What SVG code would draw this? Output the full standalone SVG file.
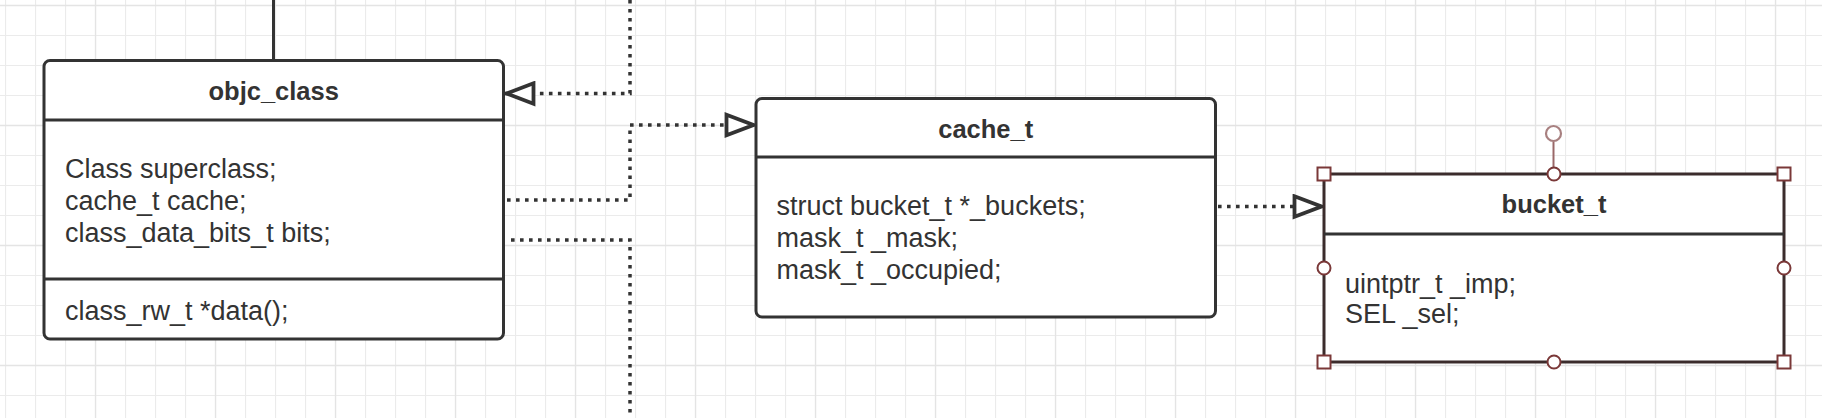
<svg xmlns="http://www.w3.org/2000/svg" width="1822" height="418" viewBox="0 0 1822 418">
<style>
.box{fill:#fff;stroke:#333;stroke-width:3}
.div{stroke:#333;stroke-width:3}
.title{font-family:"Liberation Sans",Arial,sans-serif;font-weight:bold;font-size:25.5px;fill:#333;text-anchor:middle}
.body{font-family:"Liberation Sans",Arial,sans-serif;font-size:27px;fill:#333}
.dot{fill:none;stroke:#333;stroke-width:3.5;stroke-dasharray:3.6 5.4}
.solid{fill:none;stroke:#333;stroke-width:3}
.hdl{fill:#fff;stroke:#7a3838;stroke-width:2}
</style>
<defs>
<pattern id="grid" x="5" y="5" width="30" height="30" patternUnits="userSpaceOnUse">
<path d="M0.5 0V30M0 0.5H30" fill="none" stroke="#ebebeb" stroke-width="1.2"/>
</pattern>
<marker id="tri" viewBox="0 0 34 26" refX="32" refY="13" markerWidth="34" markerHeight="26" markerUnits="userSpaceOnUse" orient="auto">
<path d="M3.5 2.8L30.5 13L3.5 23.2Z" fill="#fff" stroke="#333" stroke-width="3.8" stroke-linejoin="miter"/>
</marker>
</defs>
<rect width="1822" height="418" fill="#fff"/>
<rect width="1822" height="418" fill="url(#grid)"/>
<path d="M95.5 0V418M215.5 0V418M335.5 0V418M455.5 0V418M575.5 0V418M695.5 0V418M815.5 0V418M935.5 0V418M1055.5 0V418M1175.5 0V418M1295.5 0V418M1415.5 0V418M1535.5 0V418M1655.5 0V418M1775.5 0V418M0 5.5H1822M0 125.5H1822M0 245.5H1822M0 365.5H1822" fill="none" stroke="#e4e4e4" stroke-width="1.3"/>

<g id="connectors">
<path class="solid" d="M273.5 0V60"/>
<path class="dot" d="M630 0V93.5H505" marker-end="url(#tri)"/>
<path class="dot" d="M507 200H630V125H755" marker-end="url(#tri)"/>
<path class="dot" d="M511 240H630V418"/>
<path class="dot" d="M1218 206.5H1323" marker-end="url(#tri)"/>
</g>

<g id="objc_class">
<rect class="box" x="44" y="60.5" width="459.5" height="278.5" rx="6"/>
<path class="div" d="M44 120H503.5M44 279H503.5"/>
<text class="title" x="273.7" y="100">objc_class</text>
<text class="body" x="65" y="178">Class superclass;</text>
<text class="body" x="65" y="210">cache_t cache;</text>
<text class="body" x="65" y="242">class_data_bits_t bits;</text>
<text class="body" x="65" y="320">class_rw_t *data();</text>
</g>

<g id="cache_t">
<rect class="box" x="756" y="98.5" width="459.5" height="218.5" rx="6"/>
<path class="div" d="M756 157H1215.5"/>
<text class="title" x="985.7" y="137.5">cache_t</text>
<text class="body" x="776.5" y="215">struct bucket_t *_buckets;</text>
<text class="body" x="776.5" y="247">mask_t _mask;</text>
<text class="body" x="776.5" y="279">mask_t _occupied;</text>
</g>

<g id="bucket_t">
<rect x="1324" y="174" width="460" height="188" fill="#fff" stroke="#3b2c2c" stroke-width="3"/>
<path class="div" d="M1324 234H1784"/>
<text class="title" x="1554" y="213.3">bucket_t</text>
<text class="body" x="1345" y="292.7">uintptr_t _imp;</text>
<text class="body" x="1345" y="323.3">SEL _sel;</text>
</g>

<g id="selection">
<path d="M1553.5 141.5V167" stroke="#9a6868" stroke-width="2"/>
<circle cx="1553.5" cy="133.5" r="7.5" fill="#fff" stroke="#a88080" stroke-width="2.2"/>
<rect class="hdl" x="1317.5" y="167.5" width="13" height="13"/>
<rect class="hdl" x="1777.5" y="167.5" width="13" height="13"/>
<rect class="hdl" x="1317.5" y="355.5" width="13" height="13"/>
<rect class="hdl" x="1777.5" y="355.5" width="13" height="13"/>
<circle class="hdl" cx="1554" cy="174" r="6.5"/>
<circle class="hdl" cx="1554" cy="362" r="6.5"/>
<circle class="hdl" cx="1324" cy="268" r="6.5"/>
<circle class="hdl" cx="1784" cy="268" r="6.5"/>
</g>
</svg>
